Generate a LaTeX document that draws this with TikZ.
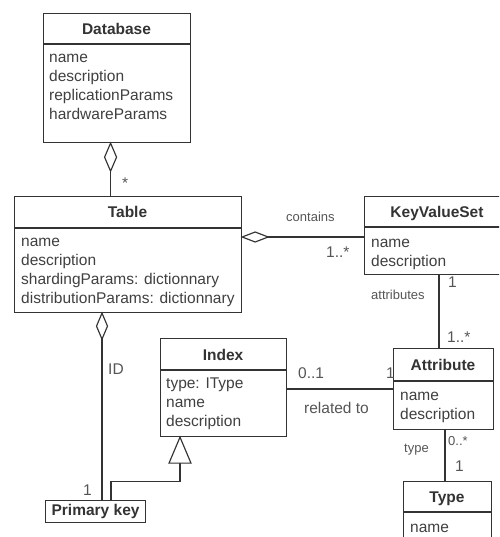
\documentclass[tikz,border=0pt]{standalone}
\usepackage{fontspec}
\setmainfont{Liberation Sans}
\usetikzlibrary{calc}
\definecolor{linec}{HTML}{333333}
\definecolor{txt}{HTML}{404040}
\definecolor{labc}{HTML}{555555}
\begin{document}
\begin{tikzpicture}[x=1pt,y=-1pt,
  box/.style={draw=linec, line width=1.15pt, fill=white, inner sep=0pt, anchor=north west},
  sep/.style={draw=linec, line width=1.15pt},
  conn/.style={draw=linec, line width=1.15pt},
  dia/.style={draw=linec, line width=1.15pt, fill=white, line join=miter},
  title/.style={font=\fontsize{15.5}{19}\selectfont\bfseries, text=linec, anchor=base, inner sep=0pt},
  attr/.style={font=\fontsize{15.5}{19}\selectfont, text=txt, anchor=base west, inner sep=0pt},
  lab/.style={font=\fontsize{15.5}{19}\selectfont, text=labc, anchor=base west, inner sep=0pt},
  slab/.style={font=\fontsize{13}{16}\selectfont, text=labc, anchor=base west, inner sep=0pt},
]
\useasboundingbox (0,0) rectangle (499,537);
\clip (0,0) rectangle (499,537);

% ---------- Database ----------
\node[box, minimum width=147, minimum height=129] (db) at (43,13) {};
\draw[sep] ($(db.north west)+(0,31)$) -- ($(db.north east)+(0,31)$);
\node[title] (dbt) at (116.5,35) {Database};
\node[attr] (dba1) at (49,63) {name};
\node[attr] (dba2) at (49,82) {description};
\node[attr] (dba3) at (49,101) {replicationParams};
\node[attr] (dba4) at (49,120) {hardwareParams};

% ---------- Table ----------
\node[box, minimum width=227, minimum height=116] (tbl) at (14,196) {};
\draw[sep] ($(tbl.north west)+(0,32)$) -- ($(tbl.north east)+(0,32)$);
\node[title] (tblt) at (127.5,217) {Table};
\node[attr] (tba1) at (21,246) {name};
\node[attr] (tba2) at (21,265) {description};
\node[attr] (tba3) at (21,284) {shardingParams: dictionnary};
\node[attr] (tba4) at (21,303) {distributionParams: dictionnary};

% ---------- KeyValueSet (runs past the right edge) ----------
\node[box, minimum width=166, minimum height=78] (kvs) at (364,196) {};
\draw[sep] ($(kvs.north west)+(0,31)$) -- ($(kvs.north east)+(0,31)$);
\node[title] (kvst) at (437,218) {KeyValueSet};
\node[attr] (kva1) at (371,247) {name};
\node[attr] (kva2) at (371,266) {description};

% ---------- Index ----------
\node[box, minimum width=126, minimum height=98] (idx) at (160,338) {};
\draw[sep] ($(idx.north west)+(0,32)$) -- ($(idx.north east)+(0,32)$);
\node[title] (idxt) at (223,360) {Index};
\node[attr] (ixa1) at (166,388) {type: IType};
\node[attr] (ixa2) at (166,407) {name};
\node[attr] (ixa3) at (166,426) {description};

% ---------- Attribute ----------
\node[box, minimum width=100, minimum height=81] (att) at (393,348) {};
\draw[sep] ($(att.north west)+(0,33)$) -- ($(att.north east)+(0,33)$);
\node[title] (attt) at (443,370) {Attribute};
\node[attr] (ata1) at (400,400) {name};
\node[attr] (ata2) at (400,419) {description};

% ---------- Type (runs past the bottom edge) ----------
\node[box, minimum width=88, minimum height=80] (typ) at (403,481) {};
\draw[sep] ($(typ.north west)+(0,31)$) -- ($(typ.north east)+(0,31)$);
\node[title] (typt) at (447,502) {Type};
\node[attr] (tya1) at (410,532) {name};

% ---------- Primary key ----------
\node[box, minimum width=100, minimum height=22] (pk) at (45,500) {};
\node[font=\fontsize{15.5}{19}\selectfont\bfseries, text=linec, inner sep=0pt] (pkt) at (pk.center) {Primary key};

% ---------- Connectors ----------
% Database <>-- Table
\coordinate (c1a) at ($(db.south)+(-6.5,0)$);
\coordinate (c1b) at ($(tbl.north)+(-17.5,0)$);
\draw[conn] ($(c1a)+(0,28)$) -- (c1b);
\draw[dia] (c1a) -- ++(6,14) -- ++(-6,14) -- ++(-6,-14) -- cycle;

% Table <>-- KeyValueSet
\coordinate (c2a) at ($(tbl.north east)+(0,41)$);
\coordinate (c2b) at ($(kvs.north west)+(0,41)$);
\draw[conn] ($(c2a)+(26,0)$) -- (c2b);
\draw[dia] (c2a) -- ++(13,-5) -- ++(13,5) -- ++(-13,5) -- cycle;

% Table <>-- Primary key
\coordinate (c3a) at ($(tbl.south west)+(88,0)$);
\coordinate (c3b) at ($(pk.north west)+(57,0)$);
\draw[conn] ($(c3a)+(0,26)$) -- (c3b);
\draw[dia] (c3a) -- ++(5.5,13) -- ++(-5.5,13) -- ++(-5.5,-13) -- cycle;

% KeyValueSet -- Attribute
\coordinate (c4a) at ($(kvs.south west)+(75,0)$);
\coordinate (c4b) at ($(att.north west)+(46,0)$);
\draw[conn] (c4a) -- (c4b);

% Index -- Attribute
\coordinate (c5a) at ($(idx.north east)+(0,51)$);
\coordinate (c5b) at ($(att.north west)+(0,41)$);
\draw[conn] (c5a) -- (c5b);

% Attribute -- Type
\coordinate (c6a) at ($(att.south west)+(52,0)$);
\coordinate (c6b) at ($(typ.north west)+(42,0)$);
\draw[conn] (c6a) -- (c6b);

% Primary key --|> Index (generalization)
\coordinate (c7a) at ($(idx.south west)+(20,0)$);
\coordinate (c7b) at ($(pk.north west)+(66,0)$);
\draw[conn] ($(c7a)+(0,26)$) -- ++(0,18) -| (c7b);
\draw[dia] (c7a) -- ++(11,26) -- ++(-22,0) -- cycle;

% ---------- Labels ----------
\node[lab] (m1) at (122,189) {*};
\node[slab] (lcont) at (286,222) {contains};
\node[lab] (m2) at (326,257) {1..*};
\node[slab] (latt) at (371,299) {attributes};
\node[lab] (m3) at (448,287) {1};
\node[lab] (m4) at (447,342) {1..*};
\node[lab] (lid) at (108,374) {ID};
\node[lab] (m5) at (83,495) {1};
\node[lab] (m6) at (298,378) {0..1};
\node[lab] (m7) at (386,378) {1};
\node[lab] (lrel) at (304,413) {related to};
\node[slab] (m8) at (448,445) {0..*};
\node[slab] (ltype) at (404,452) {type};
\node[lab] (m9) at (455,471) {1};
\end{tikzpicture}
\end{document}
